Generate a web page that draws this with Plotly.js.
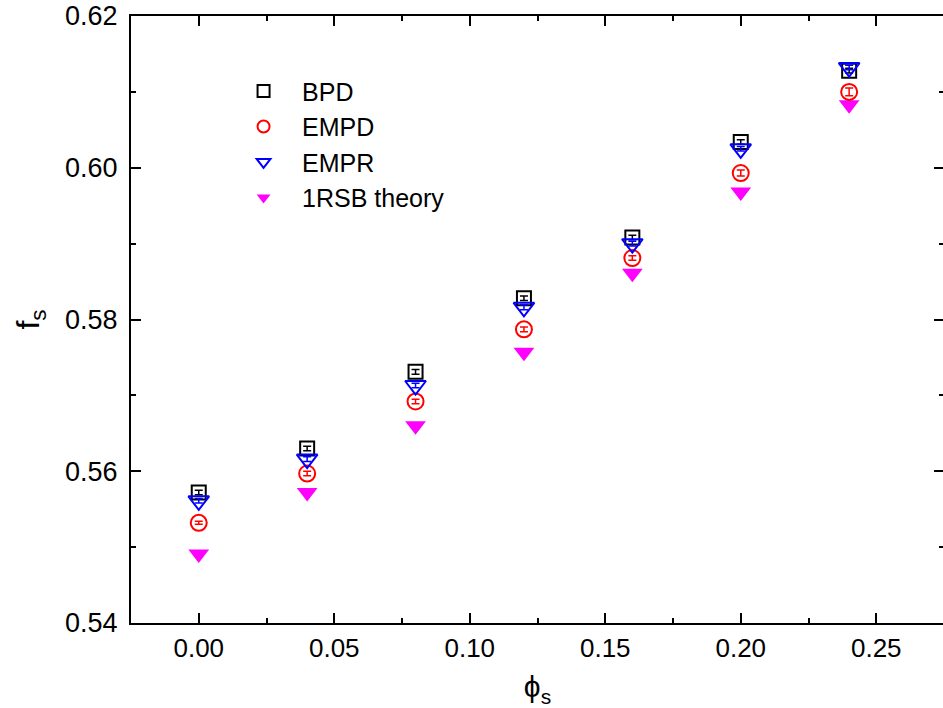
<!DOCTYPE html>
<html>
<head>
<meta charset="utf-8">
<script src="https://cdn.plot.ly/plotly-3.0.1.min.js"></script>
<style>
html,body{margin:0;padding:0;overflow:hidden;background:#fff;}
#chart{width:946px;height:708px;}
</style>
</head>
<body>
<div id="chart"></div>
<script>
const phi = [0.00, 0.04, 0.08, 0.12, 0.16, 0.20, 0.24];
const bpd = [0.5572, 0.5630, 0.5731, 0.5828, 0.5908, 0.6034, 0.6128];
const bpdErr = [0.0003, 0.0003, 0.0003, 0.0003, 0.0003, 0.0003, 0.0003];
const empd = [0.5532, 0.5597, 0.5692, 0.5787, 0.5881, 0.5993, 0.6100];
const empdErr = [0.0002, 0.0003, 0.0003, 0.0003, 0.0003, 0.0004, 0.0005];
const empr = [0.5561, 0.5616, 0.5713, 0.5816, 0.5900, 0.6025, 0.6132];
const emprErr = [0.0003, 0.0003, 0.0003, 0.0003, 0.0003, 0.0003, 0.0003];
const rsb = [0.5491, 0.5572, 0.5660, 0.5757, 0.5861, 0.5968, 0.6083];

const traces = [
  {x: phi, y: rsb, name: '1RSB theory', legendrank: 4, type: 'scatter', mode: 'markers',
   marker: {symbol: 'triangle-down', size: 18, color: '#ff00ff', line: {width: 0}}},
  {x: phi, y: bpd, name: 'BPD', legendrank: 1, type: 'scatter', mode: 'markers',
   error_y: {type: 'data', array: bpdErr, color: '#000000', thickness: 1.5, width: 4},
   marker: {symbol: 'square-open', size: 14, color: '#000000', line: {width: 2, color: '#000000'}}},
  {x: phi, y: empd, name: 'EMPD', legendrank: 2, type: 'scatter', mode: 'markers',
   error_y: {type: 'data', array: empdErr, color: '#ff0000', thickness: 1.5, width: 4},
   marker: {symbol: 'circle-open', size: 16, color: '#ff0000', line: {width: 2, color: '#ff0000'}}},
  {x: phi, y: empr, name: 'EMPR', legendrank: 3, type: 'scatter', mode: 'markers',
   error_y: {type: 'data', array: emprErr, color: '#0000ff', thickness: 1.5, width: 4},
   marker: {symbol: 'triangle-down-open', size: 18, color: '#0000ff', line: {width: 2, color: '#0000ff'}}}
];

const layout = {
  width: 946, height: 708,
  margin: {l: 131, r: 2, t: 16, b: 85, pad: 0},
  paper_bgcolor: '#ffffff', plot_bgcolor: '#ffffff',
  font: {family: 'Liberation Sans, Arial, sans-serif', color: '#000000'},
  showlegend: true,
  legend: {x: 0.1157, y: 0.914, xanchor: 'left', yanchor: 'top', bgcolor: 'rgba(0,0,0,0)',
           borderwidth: 0, font: {size: 25, family: 'Liberation Sans, Arial, sans-serif'},
           itemsizing: 'constant', itemwidth: 67, tracegroupgap: 0},
  xaxis: {
    range: [-0.025, 0.275], dtick: 0.05, tick0: 0, tickformat: '.2f',
    showgrid: false, zeroline: false, showline: true, linewidth: 2, linecolor: '#000000',
    mirror: 'ticks', ticks: 'inside', ticklen: 10, tickwidth: 2, tickcolor: '#000000',
    minor: {dtick: 0.025, tick0: 0, ticks: 'inside', ticklen: 5, tickwidth: 2, tickcolor: '#000000', showgrid: false},
    tickfont: {size: 26, family: 'Liberation Sans Narrow, Liberation Sans, Arial, sans-serif'},
    ticklabelstandoff: 1,
    title: {text: 'ϕ<sub>s</sub>', font: {size: 30, family: 'Liberation Sans, Arial, sans-serif'}, standoff: 14}
  },
  yaxis: {
    range: [0.54, 0.62], dtick: 0.02, tick0: 0.54, tickformat: '.2f',
    showgrid: false, zeroline: false, showline: true, linewidth: 2, linecolor: '#000000',
    mirror: 'ticks', ticks: 'inside', ticklen: 10, tickwidth: 2, tickcolor: '#000000',
    minor: {dtick: 0.01, tick0: 0.54, ticks: 'inside', ticklen: 5, tickwidth: 2, tickcolor: '#000000', showgrid: false},
    tickfont: {size: 27, family: 'Liberation Sans, Arial, sans-serif'},
    ticklabelstandoff: 6,
    title: {text: 'f<sub>s</sub>', font: {size: 32, family: 'Liberation Sans, Arial, sans-serif'}, standoff: 16}
  }
};

Plotly.newPlot('chart', traces, layout, {displayModeBar: false, staticPlot: true});
</script>
</body>
</html>
